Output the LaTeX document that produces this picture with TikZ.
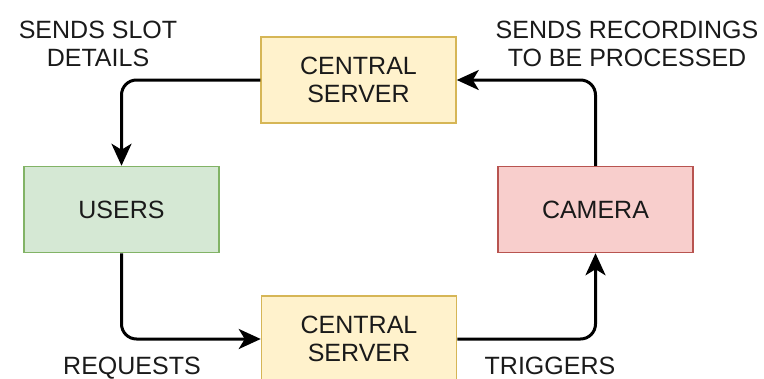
\documentclass[tikz,border=0pt]{standalone}
\usepackage{fontspec}
\setmainfont{Liberation Sans}
\usetikzlibrary{arrows.meta}
\definecolor{yfill}{HTML}{FFF2CC}
\definecolor{ydraw}{HTML}{D6B656}
\definecolor{gfill}{HTML}{D5E8D4}
\definecolor{gdraw}{HTML}{82B366}
\definecolor{rfill}{HTML}{F8CECC}
\definecolor{rdraw}{HTML}{B85450}
\definecolor{txt}{HTML}{1A1A1A}
\tikzset{
  box/.style={draw, line width=1.5pt, minimum width=195pt, minimum height=86pt, inner sep=0pt, align=center, text=txt, font=\fontsize{25}{28}\selectfont},
  ybox/.style={box, fill=yfill, draw=ydraw},
  gbox/.style={box, fill=gfill, draw=gdraw},
  rbox/.style={box, fill=rfill, draw=rdraw},
  lbl/.style={align=center, text=txt, inner sep=0pt, font=\fontsize{25}{28}\selectfont},
  arr/.style={line width=3pt, rounded corners=15pt, -{Stealth[length=22pt, width=20pt, inset=6pt]}}
}
\begin{document}
\begin{tikzpicture}[x=1pt, y=-1pt]
\useasboundingbox (0,0) rectangle (764,378);
\node[ybox] (ts) at (358.5,80) {CENTRAL\\SERVER};
\node[gbox] (us) at (121.5,209.5) {USERS};
\node[rbox] (cam) at (595.5,209.5) {CAMERA};
\node[ybox] (bs) at (359,339) {CENTRAL\\SERVER};
\node[lbl] (l1) at (98,44) {SENDS SLOT\\DETAILS};
\node[lbl] (l2) at (627,44) {SENDS RECORDINGS\\TO BE PROCESSED};
\node[lbl, anchor=base] (l3) at (132,374) {REQUESTS};
\node[lbl, anchor=base] (l4) at (550,374) {TRIGGERS};
\draw[arr] (ts.west) -| (us.north);
\draw[arr] (cam.north) |- (ts.east);
\draw[arr] (us.south) |- (bs.west);
\draw[arr] (bs.east) -| (cam.south);
\end{tikzpicture}
\end{document}
